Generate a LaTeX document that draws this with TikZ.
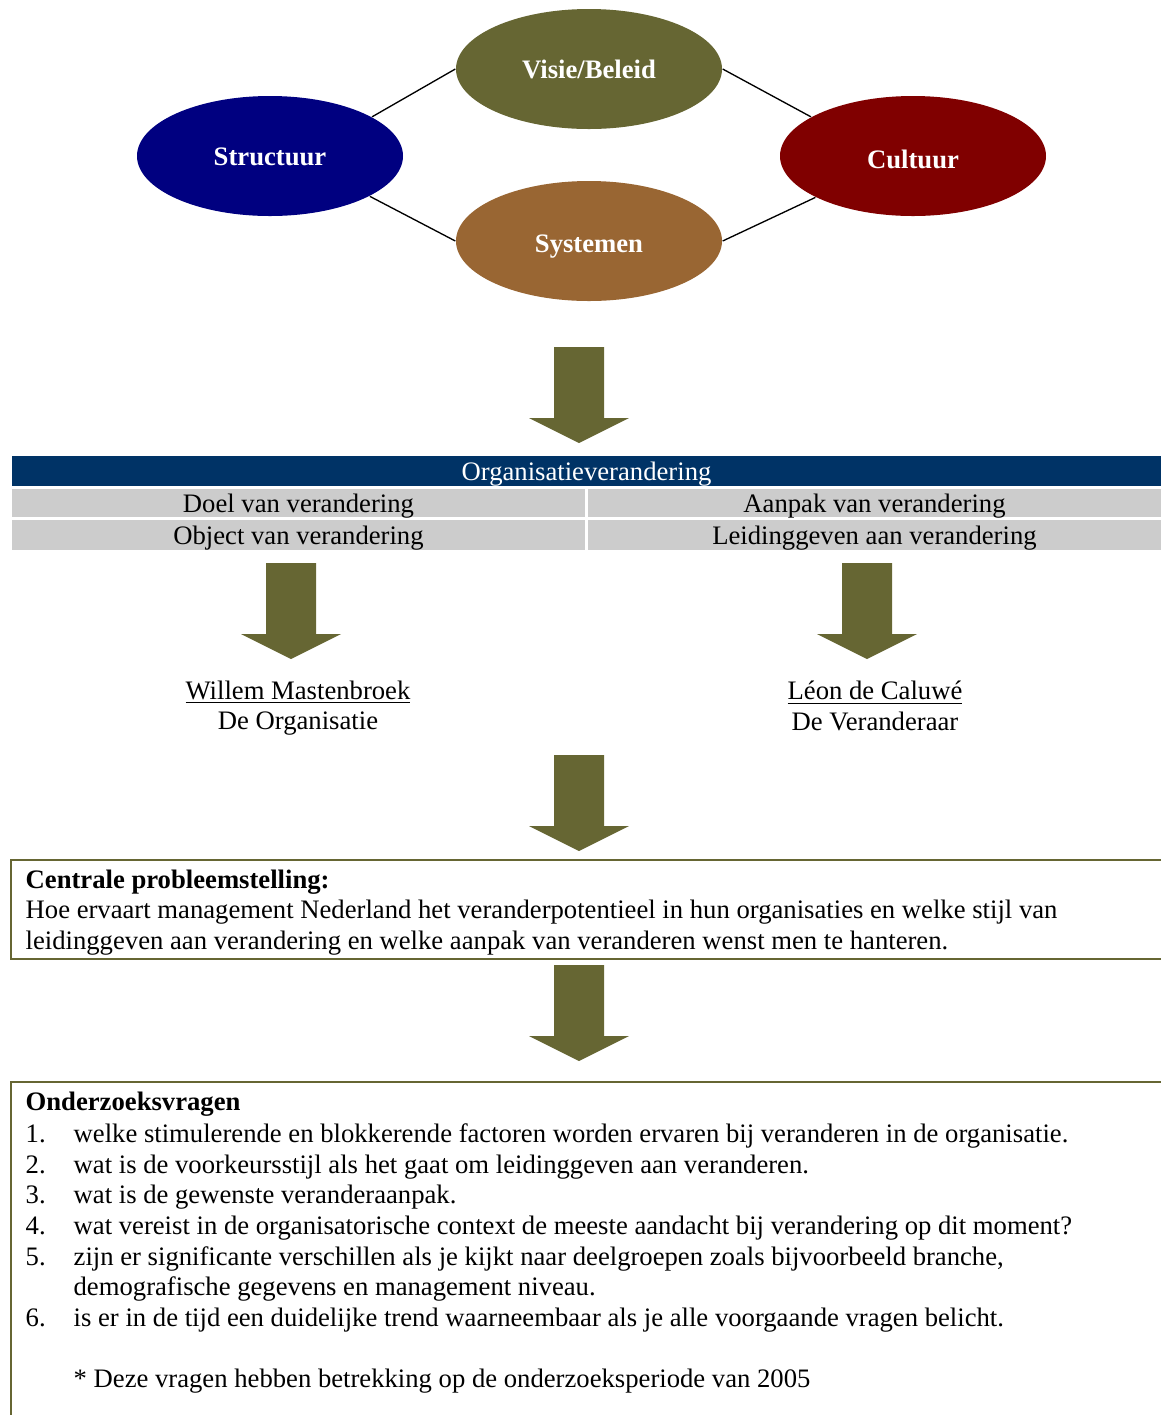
\documentclass[tikz,border=0pt]{standalone}
\usepackage{fontspec}
\setmainfont{Liberation Serif}
\usetikzlibrary{positioning,shapes.geometric}

\definecolor{olijf}{RGB}{102,102,51}
\definecolor{marine}{RGB}{0,0,128}
\definecolor{bruin}{RGB}{153,102,51}
\definecolor{bordeaux}{RGB}{128,0,0}
\definecolor{nachtblauw}{RGB}{0,51,102}
\definecolor{lichtgrijs}{RGB}{204,204,204}

\newcommand\nr[1]{\makebox[21.6pt][l]{#1}}
\newcommand\zak[2]{\raisebox{-#1}[\height][\depth]{#2}}

\begin{document}
\begin{tikzpicture}[x=0.45pt,y=-0.45pt,semithick,
                    font=\fontsize{12}{13.8}\selectfont]
  \tikzset{pijler/.style={ellipse,minimum width=119.7pt,minimum height=54pt,
                          text=white,font=\fontsize{12}{13.8}\selectfont\bfseries},
           cel/.style={fill=lichtgrijs,minimum width=257.85pt,inner sep=0pt,
                       text depth=0pt},
           kader/.style={draw=olijf,line width=0.9pt,anchor=north west,
                         minimum width=527pt,inner sep=0pt},
           tekst/.style={align=left,inner sep=0pt,anchor=north west},
           pijl/.pic={\fill[olijf] (-25,0) -- (25,0) -- (25,71) -- (50,71)
                        -- (0,96) -- (-50,71) -- (-25,71) -- cycle;}}

  \useasboundingbox (0,0) rectangle (1161,1415);
  \clip (0,0) rectangle (1161,1415);

  % de vier pijlers
  \node[pijler,fill=olijf]    (visie)     at (589,69)  {Visie/Beleid};
  \node[pijler,fill=marine]   (structuur) at (270,156) {\zak{0.5pt}{Structuur}};
  \node[pijler,fill=bruin]    (systemen)  at (589,241) {\zak{2.6pt}{Systemen}};
  \node[pijler,fill=bordeaux] (cultuur)   at (913,156) {\zak{1.4pt}{Cultuur}};

  \draw (structuur.21)  -- (visie.west);
  \draw (visie.east)    -- (cultuur.159);
  \draw (structuur.-22) -- (systemen.west);
  \draw (systemen.east) -- (cultuur.-157);

  \pic (pijl1) at (579,347) {pijl};

  % tabel
  \node[fill=nachtblauw,minimum width=517.05pt,minimum height=13.5pt,inner sep=0pt,
        text depth=0pt,text=white] (kop) at (586.5,471) {Organisatieverandering};
  \node[cel,minimum height=12.6pt] (doel)    at (298.5,503)  {Doel van verandering};
  \node[cel,minimum height=12.6pt] (aanpak)  at (874.5,503)  {Aanpak van verandering};
  \node[cel,minimum height=13.5pt] (object)  at (298.5,535)  {Object van verandering};
  \node[cel,minimum height=13.5pt] (leiding) at (874.5,535)  {Leidinggeven aan verandering};

  \pic (pijl2) at (291,563) {pijl};
  \pic (pijl3) at (867,563) {pijl};

  \node[align=center,inner sep=0pt] (mastenbroek) at (298,708)
       {\underline{Willem Mastenbroek}\\De Organisatie};
  \node[align=center,inner sep=0pt] (caluwe) at (875,706)
       {\underline{Léon de Caluwé}\\De Veranderaar};

  \pic (pijl4) at (579,755) {pijl};

  % probleemstelling
  \node[kader,minimum height=44.55pt] (probleemkader) at (10,859) {};
  \node[tekst] (probleem) at (25,869)
       {\textbf{Centrale probleemstelling:}\\
        Hoe ervaart management Nederland het veranderpotentieel in hun organisaties en welke stijl van\\
        leidinggeven aan verandering en welke aanpak van veranderen wenst men te hanteren.};

  \pic (pijl5) at (579,965) {pijl};

  % onderzoeksvragen
  \node[kader,minimum height=160pt] (vragenkader) at (10,1081) {};
  \node[tekst] (vragen) at (25,1091)
       {\textbf{Onderzoeksvragen}\\[0.7pt]
        \nr{1.}welke stimulerende en blokkerende factoren worden ervaren bij veranderen in de organisatie.\\
        \nr{2.}wat is de voorkeursstijl als het gaat om leidinggeven aan veranderen.\\
        \nr{3.}wat is de gewenste veranderaanpak.\\
        \nr{4.}wat vereist in de organisatorische context de meeste aandacht bij verandering op dit moment?\\
        \nr{5.}zijn er significante verschillen als je kijkt naar deelgroepen zoals bijvoorbeeld branche,\\
        \nr{}demografische gegevens en management niveau.\\
        \nr{6.}is er in de tijd een duidelijke trend waarneembaar als je alle voorgaande vragen belicht.\\
        \mbox{}\\
        \nr{}* Deze vragen hebben betrekking op de onderzoeksperiode van 2005};
\end{tikzpicture}
\end{document}
